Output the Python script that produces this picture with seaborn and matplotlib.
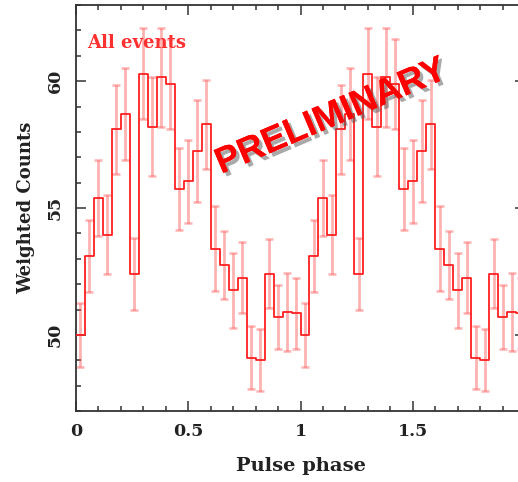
import numpy as np
import pandas as pd
import matplotlib
matplotlib.use("Agg")
import matplotlib.pyplot as plt
import matplotlib.patheffects as pe
from matplotlib.ticker import MultipleLocator
import seaborn as sns

# ---- data (one pulse cycle, 25 phase bins; shown twice) ----
counts = [50.0, 53.1, 55.4, 53.95, 58.1, 58.7, 52.4, 60.3, 58.2, 60.15,
          59.9, 55.75, 56.05, 57.25, 58.3, 53.4, 52.75, 51.75, 52.25, 49.1,
          49.0, 52.4, 50.7, 50.9, 50.85]
errors = [1.27, 1.43, 1.5, 1.55, 1.76, 1.8, 1.4, 1.8, 1.95, 1.95,
          1.77, 1.63, 1.63, 2.0, 1.76, 1.66, 1.34, 1.46, 1.4, 1.24,
          1.22, 1.36, 1.27, 1.55, 1.4]
n_cycles = 2
xtick_vals = [0, 0.5, 1, 1.5]
xtick_labels = ["0", "0.5", "1", "1.5"]
ytick_vals = [50, 55, 60]

nb = len(counts)
vals = np.tile(counts, n_cycles)
errs = np.tile(errors, n_cycles)
edges = np.arange(nb * n_cycles + 1) / nb
centers = 0.5 * (edges[:-1] + edges[1:])

step_df = pd.DataFrame({"phase": edges, "counts": np.append(vals, vals[-1])})

sns.set_theme(style="ticks")
plt.rcParams["font.family"] = ["DejaVu Serif"]

fig = plt.figure(figsize=(5.18, 4.82), dpi=100)
ax = fig.add_axes([76 / 518, 1 - 411 / 482, 449 / 518, 406 / 482])

red = "#ff2020"
ax.errorbar(centers, vals, yerr=errs, fmt="none", ecolor="#ff4848",
            elinewidth=2.0, capsize=2.6, capthick=1.8, alpha=0.42, zorder=2)
sns.lineplot(data=step_df, x="phase", y="counts", drawstyle="steps-post",
             color=red, lw=1.3, ax=ax, zorder=3)

ax.set_xlim(0, 2)
ax.set_ylim(47, 63)
ax.set_xticks(xtick_vals)
ax.set_xticklabels(xtick_labels)
ax.set_yticks(ytick_vals)
ax.xaxis.set_minor_locator(MultipleLocator(0.1))
ax.yaxis.set_minor_locator(MultipleLocator(1))
ax.tick_params(which="both", direction="in", top=True, right=True,
               color="#333333", width=1.1)
ax.tick_params(which="major", length=7)
ax.tick_params(which="minor", length=3.5)
ax.tick_params(axis="x", labelsize=12.5, pad=9, labelcolor="#222222")
ax.tick_params(axis="y", labelsize=12.5, pad=9, labelcolor="#222222",
               labelrotation=90)
for lab in ax.get_yticklabels() + ax.get_xticklabels():
    lab.set_fontweight("bold")
for lab in ax.get_yticklabels():
    lab.set_va("center")
for s in ax.spines.values():
    s.set_color("#333333")
    s.set_linewidth(1.3)

ax.set_xlabel("Pulse phase", fontsize=14, color="#222222", labelpad=12,
              fontweight="bold")
ax.set_ylabel("Weighted Counts", fontsize=13, color="#222222", labelpad=8,
              fontweight="bold")

ax.text(0.024, 0.906, "All events", transform=ax.transAxes, color="#ff3030",
        fontsize=13, ha="left", va="center", fontweight="bold")

fig.text(331 / 518, 1 - 117 / 482, "PRELIMINARY", family="Liberation Sans",
         weight="bold", fontsize=26, color="#ff0000", rotation=23,
         ha="center", va="center", rotation_mode="anchor",
         path_effects=[pe.withSimplePatchShadow(offset=(2.5, -2.5),
                                                shadow_rgbFace="#555555",
                                                alpha=0.5),
                       pe.Normal()])

fig.savefig("out.png", dpi=100)
